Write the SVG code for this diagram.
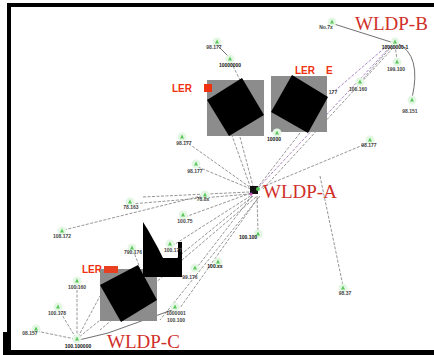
<svg xmlns="http://www.w3.org/2000/svg" xmlns:xlink="http://www.w3.org/1999/xlink" width="434" height="355" viewBox="0 0 434 355">
<style>
.frame{fill:#000}
.e{fill:none;stroke:#8a8a8a;stroke-width:0.9;stroke-dasharray:3 1.5}
.es{fill:none;stroke:#707070;stroke-width:1}
.ep{fill:none;stroke:#a07cc0;stroke-width:0.9;stroke-dasharray:3 1.5}
.lbl{font-family:"Liberation Sans",Arial,sans-serif;font-size:5px;font-weight:bold;fill:#444;text-anchor:middle}
.dk{font-family:"Liberation Sans",Arial,sans-serif;font-size:5px;font-weight:bold;fill:#111;text-anchor:middle}
.wl{font-family:"Liberation Serif","Times New Roman",serif;font-size:19px;fill:#d0302a}
.ler{font-family:"Liberation Sans",Arial,sans-serif;font-size:10px;font-weight:bold;fill:#f03010}
.gray{fill:#8c8c8c}
.blk{fill:#000}
</style>
<defs>
<g id="ic">
<circle r="4.5" fill="#e4f7e4"/>
<path d="M-2,1.5 L0,-2.5 L2,1.5 Z" fill="#5cc85c"/>
</g>
</defs>
<rect width="434" height="355" fill="#fff"/>
<g id="frame">
<rect class="frame" x="7" y="3" width="427" height="4"/>
<rect class="frame" x="7" y="3" width="4" height="350"/>
<rect class="frame" x="3" y="332" width="4" height="23"/>
<rect class="frame" x="3" y="350" width="431" height="5"/>
</g>
<g id="connectors">
<path class="es" d="M217,45 L229,57"/>
<path class="e" d="M231,62 L240,80"/>
<path class="es" d="M334,24 L394,43"/>
<path class="e" d="M395,45 L397,60"/>
<path class="es" d="M397,43 Q422,55 412,98"/>
<path class="e" d="M392,46 L362,80"/>
<path class="ep" d="M390,47 L258,188"/>
<path class="ep" d="M388,45 L330,95"/>
<path class="e" d="M393,48 L262,190"/>
<path class="e" d="M368,143 L260,188"/>
<path class="e" d="M300,133 L258,187"/>
<path class="e" d="M240,137 L253,186"/>
<path class="e" d="M230,130 L250,186"/>
<path class="e" d="M185,141 L251,188"/>
<path class="e" d="M198,167 L251,189"/>
<path class="e" d="M143,197 L250,192"/>
<path class="e" d="M131,204 L250,194"/>
<path class="e" d="M64,230 L205,195"/>
<path class="e" d="M185,217 L251,193"/>
<path class="e" d="M172,246 L252,195"/>
<path class="e" d="M320,176 L343,286"/>
<path class="e" d="M253,196 L78,338"/>
<path class="e" d="M256,197 L100,330"/>
<path class="e" d="M258,198 L180,308"/>
<path class="e" d="M260,196 L160,320"/>
<path class="e" d="M257,196 L258,232"/>
<path class="e" d="M252,196 L198,266"/>
<path class="e" d="M77,338 L77,284"/>
<path class="e" d="M76,338 L59,310"/>
<path class="e" d="M75,339 L36,331"/>
<path class="e" d="M78,337 L100,296"/>
<path class="es" d="M79,340 L108,333 L172,310"/>
<path class="e" d="M133,250 L140,268"/>
</g>
<g id="ler-b">
<rect class="gray" x="207" y="80" width="57" height="56"/>
<polygon class="blk" points="242,78 264,115 229,136 207,100"/>
<text class="ler" x="172" y="92">LER</text>
<rect x="204" y="84" width="8" height="8" fill="#f03010"/>
</g>
<g id="ler-e">
<rect class="gray" x="271" y="76" width="56" height="56"/>
<polygon class="blk" points="292,75 328,97 308,133 271,112"/>
<text class="ler" x="295" y="74">LER</text>
<text class="ler" x="326" y="74">E</text>
</g>
<g id="ler-c">
<text class="ler" x="82" y="273">LER</text>
<rect class="gray" x="100" y="269" width="57" height="52"/>
<polygon class="blk" points="138,265 157,300 121,322 100,285"/>
<rect x="104" y="266" width="14" height="7" fill="#e84020"/>
</g>
<g id="ler-x">
<polygon class="blk" points="143,222 148,230 153,239 158,248 163,258 178,258 178,242 182,242 182,277 143,277"/>
</g>
<g id="wldp-a">
<rect x="250" y="186" width="8" height="8" fill="#111"/>
<circle cx="258" cy="189" r="2" fill="#5cc85c"/>
<circle cx="251" cy="194" r="1.5" fill="#c050c0"/>
<text class="wl" x="263" y="198">WLDP-A</text>
</g>
<g id="wldp-b">
<use xlink:href="#ic" x="395" y="42"/>
<text class="dk" x="395" y="49">10000000-1</text>
<text class="wl" x="355" y="30">WLDP-B</text>
</g>
<g id="wldp-c">
<use xlink:href="#ic" x="77" y="339"/>
<text class="dk" x="78" y="348">100.100000</text>
<text class="wl" x="107" y="348">WLDP-C</text>
</g>
<g id="n1"><use xlink:href="#ic" x="217" y="42"/><text class="lbl" x="214" y="49">98.177</text></g>
<g id="n2"><use xlink:href="#ic" x="230" y="59"/><text class="dk" x="230" y="67">10000000</text></g>
<g id="n3"><use xlink:href="#ic" x="332" y="22"/><text class="lbl" x="326" y="29">No.7x</text></g>
<g id="n5"><use xlink:href="#ic" x="397" y="62"/><text class="lbl" x="396" y="71">199.100</text></g>
<g id="n6"><use xlink:href="#ic" x="412" y="100"/><text class="lbl" x="410" y="113">98.151</text></g>
<g id="n7"><use xlink:href="#ic" x="360" y="82"/><text class="lbl" x="358" y="91">100.160</text></g>
<g id="n8"><text class="lbl" x="333" y="94">177</text></g>
<g id="n9"><use xlink:href="#ic" x="277" y="133"/><text class="dk" x="274" y="141">10000</text></g>
<g id="n10"><use xlink:href="#ic" x="370" y="140"/><text class="lbl" x="369" y="147">98.177</text></g>
<g id="n11"><use xlink:href="#ic" x="182" y="137"/><text class="lbl" x="184" y="145">98.177</text></g>
<g id="n12"><use xlink:href="#ic" x="196" y="164"/><text class="lbl" x="195" y="173">98.177</text></g>
<g id="n13"><use xlink:href="#ic" x="205" y="195"/><text class="lbl" x="203" y="201">78.8x</text></g>
<g id="n14"><use xlink:href="#ic" x="130" y="202"/><text class="lbl" x="131" y="209">78.163</text></g>
<g id="n15"><use xlink:href="#ic" x="62" y="231"/><text class="lbl" x="62" y="238">108.172</text></g>
<g id="n16"><use xlink:href="#ic" x="183" y="215"/><text class="lbl" x="185" y="223">100.75</text></g>
<g id="n17"><use xlink:href="#ic" x="132" y="248"/><text class="lbl" x="133" y="254">790.176</text></g>
<g id="n18"><use xlink:href="#ic" x="170" y="244"/><text class="lbl" x="173" y="252">100.177</text></g>
<g id="n19"><use xlink:href="#ic" x="195" y="268"/><text class="lbl" x="190" y="279">99.176</text></g>
<g id="n20"><use xlink:href="#ic" x="77" y="281"/><text class="lbl" x="77" y="289">100.160</text></g>
<g id="n21"><use xlink:href="#ic" x="58" y="307"/><text class="lbl" x="57" y="315">100.178</text></g>
<g id="n22"><use xlink:href="#ic" x="36" y="329"/><text class="lbl" x="30" y="335">08.157</text></g>
<g id="n23"><use xlink:href="#ic" x="175" y="307"/><text class="lbl" x="176" y="315">1000001</text><text class="lbl" x="176" y="322">100.100</text></g>
<g id="n24"><use xlink:href="#ic" x="258" y="234"/><text class="dk" x="248" y="239">100.100</text></g>
<g id="n25"><use xlink:href="#ic" x="218" y="262"/><text class="dk" x="215" y="268">100.xx</text></g>
<g id="n26"><use xlink:href="#ic" x="343" y="288"/><text class="lbl" x="345" y="295">98.37</text></g>
</svg>
